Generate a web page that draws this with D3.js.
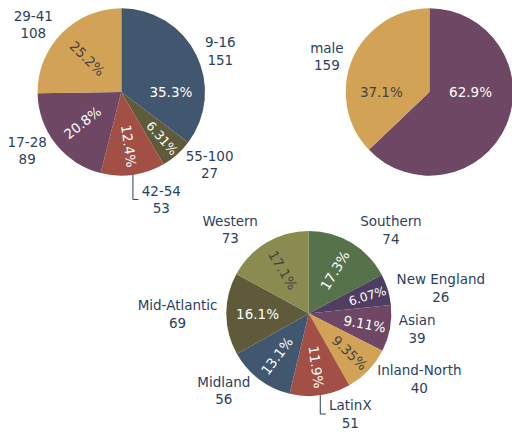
<!DOCTYPE html>
<html>
<head>
<meta charset="utf-8">
<script src="https://cdn.jsdelivr.net/npm/d3@7"></script>
<style>
  body { margin: 0; background: #fff; }
  svg { display: block; font-family: "DejaVu Sans", Verdana, sans-serif; }
</style>
</head>
<body>
<div id="chart"></div>
<script>
// age groups
const ageLabels = ["9-16", "55-100", "42-54", "17-28", "29-41"];
const ageValues = [151, 27, 53, 89, 108];

// gender
const genderLabels = ["female", "male"];
const genderValues = [269, 159];

// dialect regions
const regionLabels = ["Southern", "New England", "Asian", "Inland-North", "LatinX", "Midland", "Mid-Atlantic", "Western"];
const regionValues = [74, 26, 39, 40, 51, 56, 69, 73];

const sliceColor = {
  "9-16": "#41576f", "55-100": "#5e5a3a", "42-54": "#a24f45", "17-28": "#6d4763", "29-41": "#d2a257",
  "female": "#6d4763", "male": "#d2a257",
  "Southern": "#56724a", "New England": "#4f3e5f", "Asian": "#6d4763", "Inland-North": "#d2a257",
  "LatinX": "#a24f45", "Midland": "#41576f", "Mid-Atlantic": "#5e5a3a", "Western": "#8a8b50"
};

const W = 512, H = 434;
const FS = 13.5, LH = FS * 1.3, PAD = 3;
const labelColor = "#2a3f5f";

const svg = d3.select("#chart").append("svg")
  .attr("width", W)
  .attr("height", H);

const probe = svg.append("text").attr("font-size", FS).style("visibility", "hidden");
function textBox(s) {
  probe.text(s);
  const b = probe.node().getBBox();
  return { w: b.width, h: b.height, y: b.y };
}

function insideColor(c) {
  const k = d3.rgb(c);
  return (k.r * 299 + k.g * 587 + k.b * 114) / 1000 >= 128 ? "#444" : "#fff";
}

// keep rotated text readable
function upright(deg) {
  deg = ((deg % 180) + 180) % 180;
  return deg > 90 ? deg - 180 : deg;
}

function maxHalf(a, half, rr) {
  const q = a + 1 / (2 * Math.tan(Math.min(half, Math.PI / 2 - 1e-6)));
  return rr * Math.min(1 / (Math.sqrt(q * q + 0.5) + q), 1 / (Math.sqrt(a * a + 0.5) + a));
}

function fitRadial(bb, r, half, pos, rotAngle) {
  const rr = Math.max(0, r - 2 * PAD), a = bb.w / bb.h, s = maxHalf(a, half, rr);
  return { scale: 2 * s / bb.h, rCenter: Math.cos(s / rr) - a * s / rr,
           rotate: upright(rotAngle * 180 / Math.PI - 90), pos: pos };
}

function fitTangential(bb, r, half, pos, rotAngle) {
  const rr = Math.max(0, r - 2 * PAD), a = bb.h / bb.w, s = maxHalf(a, half, rr);
  return { scale: 2 * s / bb.w, rCenter: Math.cos(s / rr) - a * s / rr,
           rotate: upright(rotAngle * 180 / Math.PI), pos: pos };
}

function placeInside(bb, r, a0, a1) {
  const mid = (a0 + a1) / 2, half = (a1 - a0) / 2;
  const cands = [];
  [Math.PI / 2, 3 * Math.PI / 2].forEach(c => {
    if (a0 < c && c < a1) cands.push(fitRadial(bb, r, Math.min(c - a0, a1 - c), c, Math.PI / 2));
  });
  [Math.PI].forEach(c => {
    if (a0 < c && c < a1) cands.push(fitTangential(bb, r, Math.min(c - a0, a1 - c), c, 0));
  });
  cands.push(fitRadial(bb, r, half, mid, mid));
  cands.push(fitTangential(bb, r, half, mid, mid));
  return cands.find(t => t.scale >= 1) || cands.reduce((m, t) => t.scale > m.scale ? t : m);
}

const pct = d3.format(".3~r");

function drawPie(labels, values, cx, cy, r) {
  const data = labels.map((l, i) => ({ label: l, value: values[i] }));
  const total = d3.sum(values);
  const arcs = d3.pie().sort(null).value(d => d.value)(data);
  const arcGen = d3.arc().innerRadius(0).outerRadius(r);

  const g = svg.append("g").attr("transform", `translate(${cx},${cy})`);

  g.selectAll("path.slice")
    .data(arcs)
    .enter()
    .append("path")
    .attr("class", "slice")
    .attr("d", arcGen)
    .attr("fill", d => sliceColor[d.data.label]);

  // percentages inside
  arcs.forEach(d => {
    const txt = pct(d.value / total * 100) + "%";
    const bb = textBox(txt);
    const t = placeInside(bb, r, d.startAngle, d.endAngle);
    const x = Math.sin(t.pos) * r * t.rCenter;
    const y = -Math.cos(t.pos) * r * t.rCenter;
    g.append("text")
      .attr("transform", `translate(${x},${y}) rotate(${t.rotate}) scale(${Math.min(1, t.scale)})`)
      .attr("text-anchor", "middle")
      .attr("y", -(bb.y + bb.h / 2))
      .attr("font-size", FS)
      .attr("fill", insideColor(sliceColor[d.data.label]))
      .text(txt);
  });

  // outside labels: name + count
  const pts = arcs.map(d => {
    const mid = (d.startAngle + d.endAngle) / 2;
    const lines = [d.data.label, String(d.data.value)];
    const w = d3.max(lines, s => textBox(s).w);
    const h = 2 * LH;
    const px = r * Math.sin(mid), py = -r * Math.cos(mid);
    let dx = w / 2, dy = h / 2;
    if (px < 0) dx = -dx;
    if (py < 0) dy = -dy;
    const tx = px + dx + Math.abs(dy) * (dx > 0 ? 1 : -1) / 2;
    const ty = py + dy / (1 + px * px / (py * py));
    return { lines, w, h, px, py, tx, ty, yMin: ty - h / 2, yMax: ty + h / 2, extraY: 0 };
  });

  // push overlapping labels away from the equator
  const quads = [[[], []], [[], []]];
  pts.forEach(p => quads[p.py < 0 ? 0 : 1][p.px < 0 ? 0 : 1].push(p));
  for (let yh = 0; yh < 2; yh++) {
    const order = yh ? (a, b) => a.py - b.py : (a, b) => b.py - a.py;
    for (let xh = 0; xh < 2; xh++) {
      const quad = quads[yh][xh].sort(order);
      const opp = quads[1 - yh][xh];
      quad.forEach((p, i) => {
        const prev = i ? quad[i - 1] : (yh ? opp[0] : null);
        if (!prev) return;
        const shift = prev.extraY + (yh ? prev.yMax : prev.yMin) - (yh ? p.yMin : p.yMax);
        if (shift * (yh ? 1 : -1) > 0) p.extraY = shift;
      });
    }
  }

  const lineBox = textBox("Hg");
  pts.forEach(p => {
    if (cx + p.tx - p.w / 2 >= W) return; // falls off the page
    const ty = p.ty + p.extraY;
    if (p.extraY !== 0) {
      const yNet = ty - p.py;
      g.append("path")
        .attr("d", `M${p.px},${p.py}v${yNet}h${(p.px < 0 ? -1 : 1) * 5.5}`)
        .attr("fill", "none")
        .attr("stroke", labelColor)
        .attr("stroke-width", 1);
    }
    const t = g.append("text")
      .attr("text-anchor", "middle")
      .attr("font-size", FS)
      .attr("fill", labelColor);
    p.lines.forEach((s, i) => {
      t.append("tspan")
        .attr("x", p.tx)
        .attr("y", ty + (i - 0.5) * LH - (lineBox.y + lineBox.h / 2))
        .text(s);
    });
  });
}

drawPie(ageLabels, ageValues, 121.3, 92, 83.7);
drawPie(genderLabels, genderValues, 429.4, 92, 83.7);
drawPie(regionLabels, regionValues, 308.8, 313.5, 82.5);

probe.remove();
</script>
</body>
</html>
